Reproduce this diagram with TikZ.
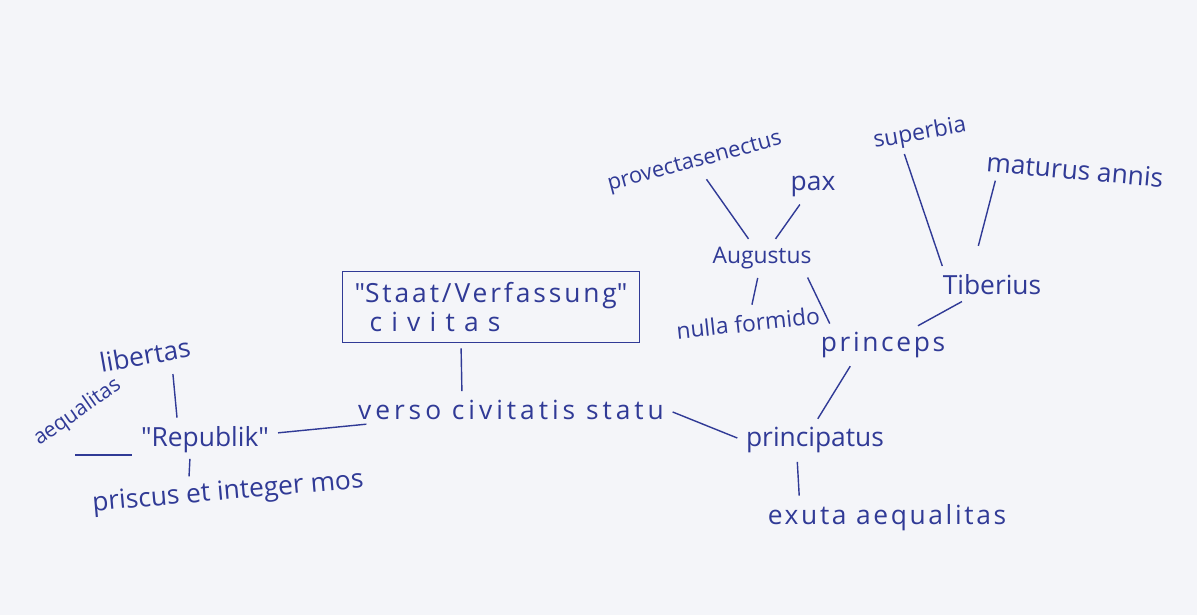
\documentclass[tikz,border=0pt]{standalone}
\usepackage{fontspec}
\setmainfont{Open Sans}
\definecolor{ink}{RGB}{48,58,150}
\definecolor{paper}{RGB}{244,245,249}

\begin{document}
\begin{tikzpicture}[word/.style={text=ink, inner sep=2pt, font=\fontsize{15}{17}\selectfont},
  link/.style={draw=ink, line width=0.8pt, shorten <=3pt, shorten >=3pt}]

\fill[paper] (0,0) rectangle (23.94,12.3);
\useasboundingbox (0,0) rectangle (23.94,12.3);

% center
\node (civitas) [word, draw=ink, line width=0.8pt, rectangle, minimum width=5.94cm, minimum height=1.42cm, align=left] at (9.82,6.16) {\addfontfeatures{LetterSpace=11}\textquotedbl Staat/Verfassung\textquotedbl\\\hspace*{0.3cm}\addfontfeatures{LetterSpace=35}civitas};
\node (verso) [word, font=\fontsize{15}{17}\selectfont\addfontfeatures{LetterSpace=15}] at (10.22,4.10) {verso civitatis statu};

% left branch
\node (republik) [word] at (4.10,3.50) {\textquotedbl Republik\textquotedbl};
\node (libertas) [word, rotate=10] at (2.90,5.20) {libertas};
\node (aequalitas) [word, rotate=35, font=\fontsize{12}{14}\selectfont] at (1.55,4.05) {aequalitas};
\node (priscus) [word, rotate=5] at (4.56,2.44) {priscus et integer mos};

% right branch
\node (principatus) [word] at (16.30,3.50) {principatus};
\node (exuta) [word, font=\fontsize{15}{17}\selectfont\addfontfeatures{LetterSpace=10}] at (17.74,1.94) {exuta aequalitas};
\node (princeps) [word, font=\fontsize{15}{17}\selectfont\addfontfeatures{LetterSpace=10}] at (17.66,5.40) {princeps};
\node (augustus) [word, font=\fontsize{13}{15}\selectfont] at (15.24,7.14) {Augustus};
\node (pax) [word] at (16.26,8.58) {pax};
\node (provecta) [word, rotate=15, font=\fontsize{12.5}{15}\selectfont] at (13.90,9.04) {provectasenectus};
\node (nulla) [word, rotate=6, font=\fontsize{13}{15}\selectfont] at (14.96,5.84) {nulla formido};
\node (tiberius) [word] at (19.84,6.60) {Tiberius};
\node (superbia) [word, rotate=10, font=\fontsize{13}{15}\selectfont] at (18.40,9.62) {superbia};
\node (maturus) [word, rotate=-5] at (21.50,8.90) {maturus annis};

% connectors
\draw[link] ([xshift=-6mm]civitas.south) -- ([xshift=-9.8mm]verso.north);
\draw[link] (republik) -- (verso);
\draw[link] ([xshift=5mm]libertas.south) -- ([xshift=-5.5mm]republik.north);
\coordinate (aeqend) at (1.50,3.20);
\draw[link, shorten <=0pt] (aeqend) -- (aeqend -| republik.west);
\draw[link, shorten <=1pt, shorten >=0pt] ([xshift=-3mm]republik.south) -- ([xshift=-7.5mm]priscus.north);
\draw[link] (verso.east) -- (principatus.west);
\draw[link] ([xshift=-3.6mm]principatus.south) -- ([xshift=-17.5mm]exuta.north);
\draw[link] ([xshift=-6mm]princeps.south) -- (principatus.north);
\draw[link] ([xshift=-2mm]augustus.south east) -- ([xshift=3mm]princeps.north west);
\draw[link] (tiberius) -- (princeps);
\draw[link] (provecta) -- (augustus);
\draw[link] (pax) -- (augustus);
\draw[link] (nulla) -- (augustus);
\draw[link] ([xshift=-4mm]superbia.south) -- ([xshift=1mm]tiberius.north west);
\draw[link] ([xshift=3mm]maturus.south west) -- ([xshift=-3mm,yshift=4mm]tiberius.north);

\end{tikzpicture}
\end{document}
